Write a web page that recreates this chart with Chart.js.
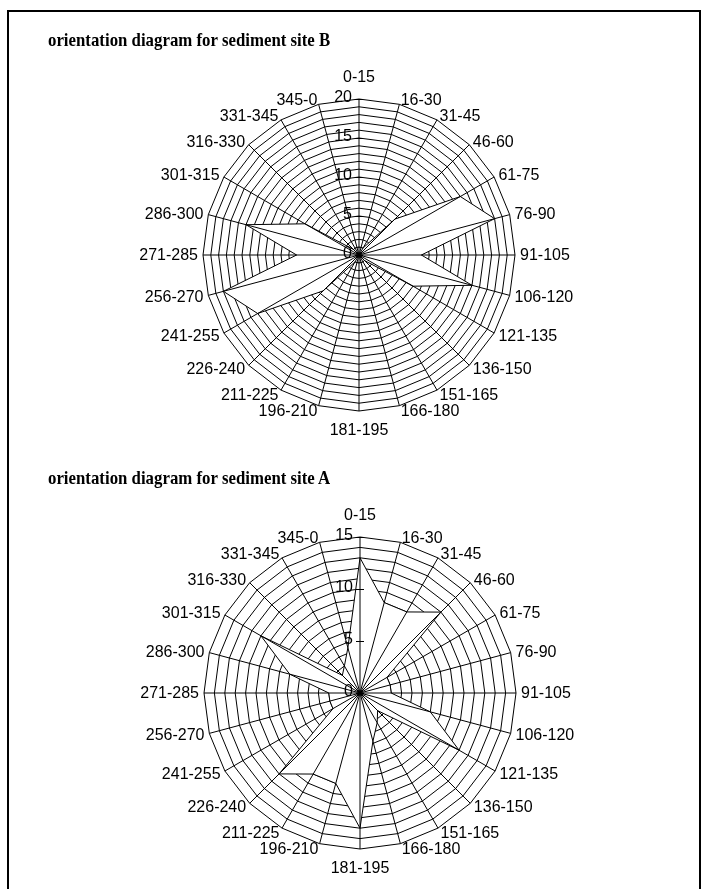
<!DOCTYPE html>
<html>
<head>
<meta charset="utf-8">
<script src="https://cdn.jsdelivr.net/npm/chart.js@4.4.1/dist/chart.umd.min.js"></script>
<style>
  html,body{margin:0;padding:0;background:#fff;}
  #page{position:relative;width:703px;height:889px;overflow:hidden;}
  #frame{position:absolute;left:7px;top:10px;width:694px;height:900px;border:2px solid #000;box-sizing:border-box;}
  .title{position:absolute;left:48px;font:bold 19px "Liberation Serif","Times New Roman",serif;line-height:22px;white-space:nowrap;transform:scaleX(.885);transform-origin:0 0;}
  canvas{position:absolute;left:0;}
</style>
</head>
<body>
<div id="page">
  <div id="frame"></div>
  <canvas id="chartB" width="703" height="440" style="top:0"></canvas>
  <canvas id="chartA" width="703" height="449" style="top:440px"></canvas>
  <div class="title" style="top:29px">orientation diagram for sediment site B</div>
  <div class="title" style="top:467px">orientation diagram for sediment site A</div>
</div>
<script>
// ====== DATA ======
const sectors = ['0-15','16-30','31-45','46-60','61-75','76-90','91-105','106-120','121-135','136-150','151-165','166-180',
                 '181-195','196-210','211-225','226-240','241-255','256-270','271-285','286-300','301-315','316-330','331-345','345-0'];
const siteB = [1,1,1,6.5,15,18,8,15,8,1,1,1, 1,1,1,6.5,15,18,8,15,8,1,1,1];
const siteA = [13,9,9,11,3,3,3,7,11,2.4,3.3,4.8, 13,9,9,11,3,3,3,7,11,2.4,3,4.5];
const ticksB = [0,5,10,15,20];
const ticksA = [0,5,10,15];

// ====== LAYOUT ======
const FONT = '"Liberation Sans", Arial, sans-serif';
const R = 156; // grid radius in px

// spokes over the white fill, value labels left of the top spoke, sector labels round the rim
const overlay = {
  id:'overlay',
  afterDatasetsDraw(chart, args, opts){
    const s = chart.scales.r, ctx = chart.ctx, n = chart.data.labels.length, half = n/2;
    ctx.save();
    ctx.strokeStyle = '#000'; ctx.lineWidth = 1;
    ctx.beginPath();
    for(let i=0;i<n;i++){
      const p = s.getPointPositionForValue(i, s.max);
      ctx.moveTo(s.xCenter, s.yCenter); ctx.lineTo(p.x, p.y);
    }
    ctx.stroke();
    ctx.font = '16px '+FONT; ctx.fillStyle = '#000'; ctx.textBaseline = 'middle';
    ctx.textAlign = 'right';
    for(const v of opts.ticks){
      const y = s.yCenter - s.getDistanceFromCenterForValue(v);
      ctx.beginPath(); ctx.moveTo(s.xCenter-4, y+0.5); ctx.lineTo(s.xCenter+4, y+0.5); ctx.stroke();
      ctx.fillText(String(v), s.xCenter-7, y-1);
    }
    // sector labels, Excel style: centred top/bottom, else side-aligned and vertically centred
    for(let i=0;i<n;i++){
      const p = s.getPointPosition(i, s.drawingArea + (i===0 ? 21 : i===half ? 20 : 5));
      ctx.textAlign = (i===0||i===half) ? 'center' : i<half ? 'left' : 'right';
      ctx.fillText(chart.data.labels[i], p.x, p.y + (i===0||i===half ? 0 : 1));
    }
    ctx.restore();
  }
};

function radar(id, values, ticks, pad){
  return new Chart(document.getElementById(id), {
    type:'radar',
    data:{ labels:sectors, datasets:[{ data:values, borderColor:'#000', borderWidth:1, backgroundColor:'#fff', fill:true, pointRadius:0, tension:0 }] },
    options:{
      responsive:false, maintainAspectRatio:false, animation:false,
      layout:{ padding:pad },
      plugins:{ legend:{display:false}, tooltip:{enabled:false}, overlay:{ ticks } },
      scales:{ r:{
        min:0, max:ticks[ticks.length-1], beginAtZero:true,
        ticks:{ display:false, stepSize:1 },
        grid:{ color:'#000', lineWidth:1, circular:false },
        angleLines:{ display:false },
        pointLabels:{ display:false }
      }}
    },
    plugins:[overlay]
  });
}

// chart area 2R square: centre B at (359,255), centre A at (360,693)
radar('chartB', siteB, ticksB, { left:359-R, right:703-359-R, top:255-R, bottom:440-255-R });
radar('chartA', siteA, ticksA, { left:360-R, right:703-360-R, top:693-440-R, bottom:449-(693-440)-R });
</script>
</body>
</html>
